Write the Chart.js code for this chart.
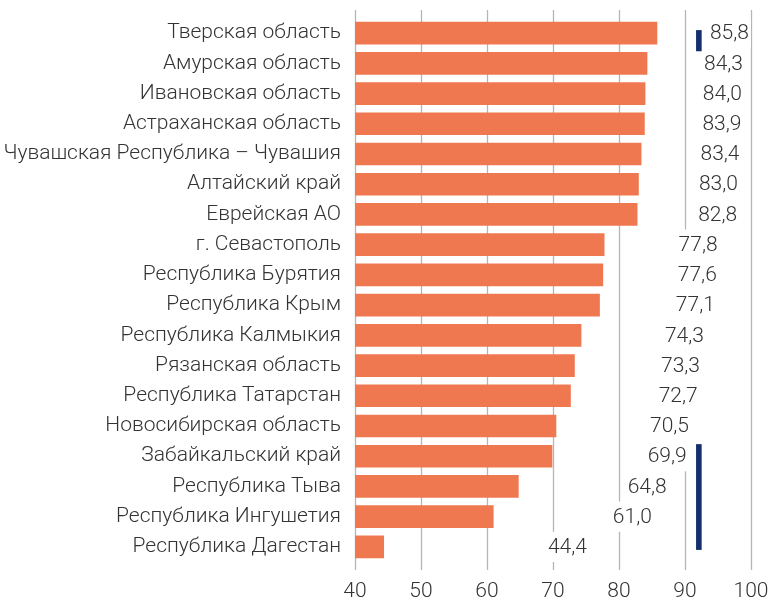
<!DOCTYPE html>
<html>
<head>
<meta charset="utf-8">
<script src="https://cdn.jsdelivr.net/npm/chart.js@4"></script>
<style>
  html, body { margin: 0; padding: 0; background: #fff; }
  #wrap { width: 769px; height: 601px; }
</style>
</head>
<body>
<div id="wrap"><canvas id="chart"></canvas></div>
<script>
// данные
const regions = [
  'Тверская область', 'Амурская область', 'Ивановская область', 'Астраханская область',
  'Чувашская Республика – Чувашия', 'Алтайский край', 'Еврейская АО', 'г. Севастополь',
  'Республика Бурятия', 'Республика Крым', 'Республика Калмыкия', 'Рязанская область',
  'Республика Татарстан', 'Новосибирская область', 'Забайкальский край', 'Республика Тыва',
  'Республика Ингушетия', 'Республика Дагестан'
];
const values = [85.8, 84.3, 84.0, 83.9, 83.4, 83.0, 82.8, 77.8, 77.6, 77.1, 74.3, 73.3, 72.7, 70.5, 69.9, 64.8, 61.0, 44.4];
const xTicks = [40, 50, 60, 70, 80, 90, 100];
// тёмные метки справа: [от строки, до строки]
const markers = [[-0.1, 0.6], [13.6, 17.1]];
const markerValue = 92.1;

const FONT = 'Roboto, "Liberation Sans", sans-serif';
const TEXT = '#333333';

// сетка рисуется вручную, чтобы линии выходили за область графика
const gridPlugin = {
  id: 'gridLines',
  beforeDatasetsDraw(chart) {
    const { ctx, chartArea, scales: { x } } = chart;
    ctx.save();
    ctx.strokeStyle = '#b5b5b5';
    ctx.lineWidth = 1.3;
    xTicks.forEach(t => {
      const px = Math.round(x.getPixelForValue(t)) + 0.5;
      ctx.beginPath();
      ctx.moveTo(px, chartArea.top - 8);
      ctx.lineTo(px, chartArea.bottom + 8);
      ctx.stroke();
    });
    ctx.restore();
  }
};

// подписи значений на белой подложке + синие отметки
const labelPlugin = {
  id: 'valueLabels',
  afterDatasetsDraw(chart) {
    const { ctx, scales: { x, y } } = chart;
    const rowH = Math.abs(y.getPixelForValue(1) - y.getPixelForValue(0));
    ctx.save();
    ctx.font = '300 21px ' + FONT;
    ctx.textAlign = 'right';
    ctx.textBaseline = 'middle';
    values.forEach((v, i) => {
      const txt = v.toFixed(1).replace('.', ',');
      const right = x.getPixelForValue(48.8 + 0.593 * v);
      const cy = y.getPixelForValue(i);
      const w = ctx.measureText(txt).width;
      ctx.fillStyle = '#fff';
      ctx.fillRect(right - w - 3, cy - rowH / 2, w + 5, rowH);
      ctx.fillStyle = TEXT;
      ctx.fillText(txt, right, cy + 1);
    });
    ctx.fillStyle = '#142f6c';
    const mx = x.getPixelForValue(markerValue);
    markers.forEach(([a, b]) => {
      const y0 = y.getPixelForValue(a), y1 = y.getPixelForValue(b);
      ctx.fillRect(mx - 2.8, y0, 5.6, y1 - y0);
    });
    ctx.restore();
  }
};

new Chart(document.getElementById('chart'), {
  type: 'bar',
  data: {
    labels: regions,
    datasets: [{
      data: values,
      backgroundColor: '#ef7850',
      borderWidth: 0,
      barPercentage: 0.75,
      categoryPercentage: 1.0
    }]
  },
  options: {
    indexAxis: 'y',
    responsive: true,
    maintainAspectRatio: false,
    animation: false,
    layout: { padding: { top: 18, right: 18, left: 0, bottom: 0 } },
    plugins: { legend: { display: false }, tooltip: { enabled: false } },
    scales: {
      x: {
        min: 40, max: 100,
        grid: { display: false, drawTicks: true, tickLength: 17 },
        border: { display: false },
        ticks: { stepSize: 10, color: TEXT, padding: 0, font: { family: FONT, size: 21, weight: 300 } },
        afterFit(scale) { scale.height = 39; }
      },
      y: {
        grid: { display: false, drawTicks: true, tickLength: 14 },
        border: { display: false },
        ticks: { color: TEXT, padding: 0, font: { family: FONT, size: 21, weight: 300 } },
        afterFit(scale) { scale.width = 355; }
      }
    }
  },
  plugins: [gridPlugin, labelPlugin]
});
</script>
</body>
</html>
